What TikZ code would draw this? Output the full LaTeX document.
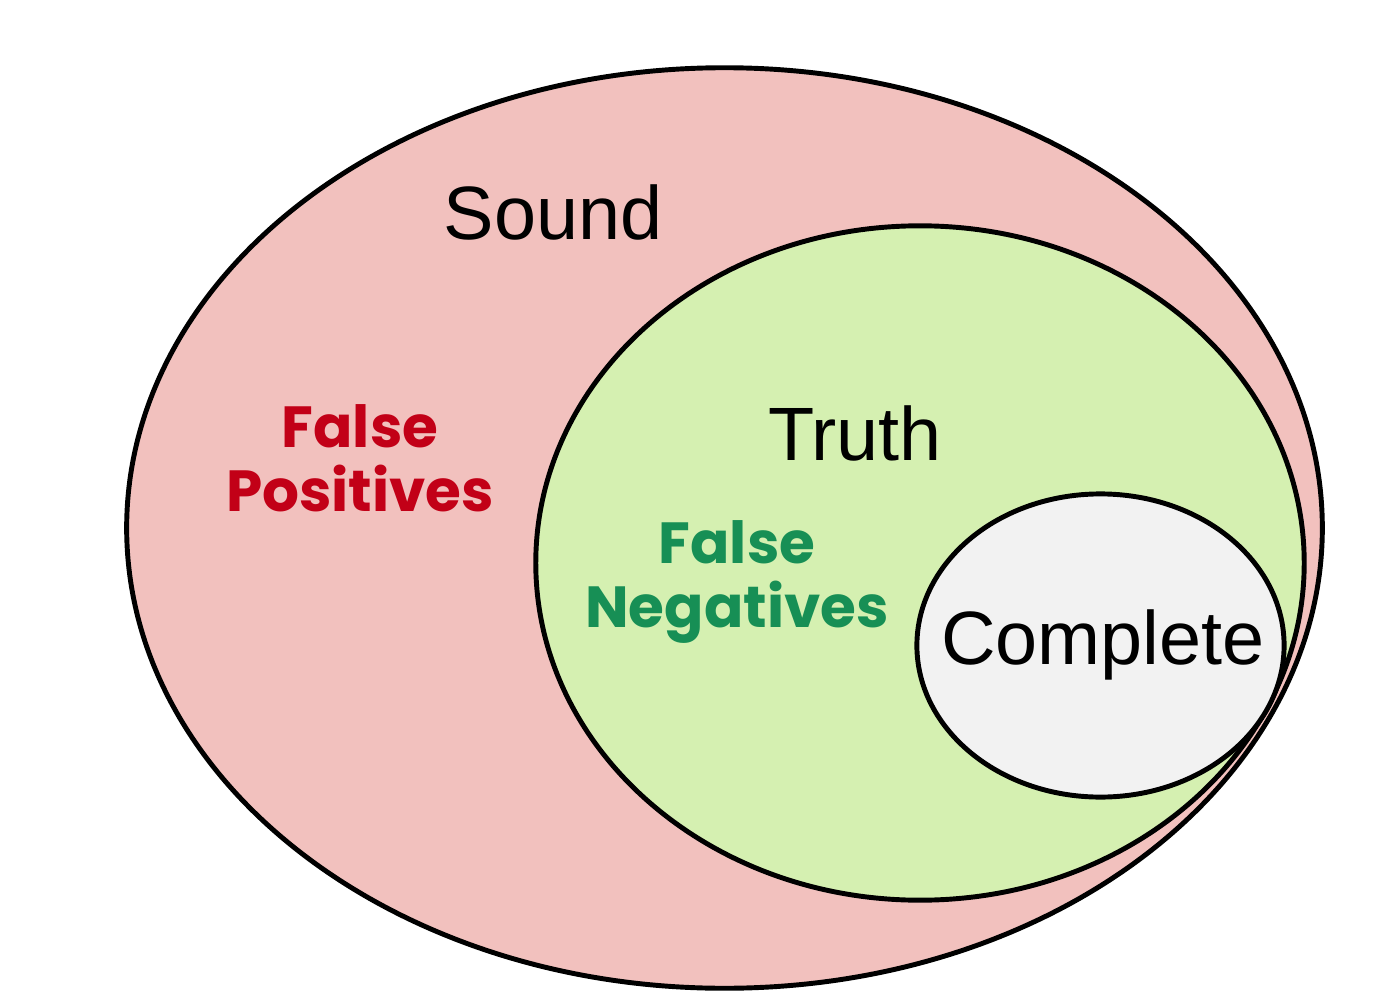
\documentclass[tikz,border=0pt]{standalone}
\usepackage{fontspec}
\setmainfont{Liberation Sans}
\newfontfamily\handfont{Poppins}
\usetikzlibrary{shapes.geometric, positioning}
\definecolor{soundRed}{HTML}{F2C1BE}
\definecolor{truthGreen}{HTML}{D5F0B1}
\definecolor{completeGray}{HTML}{F2F2F2}
\definecolor{fpRed}{HTML}{C20017}
\definecolor{fnGreen}{HTML}{178F55}
\tikzset{
  setE/.style={ellipse, draw=black, line width=1.4pt, inner sep=0pt},
  setLabel/.style={font=\fontsize{21.5}{26}\selectfont, inner sep=0pt},
  errLabel/.style={font=\handfont\bfseries\fontsize{16.5}{18.2}\selectfont,
                   align=center, inner sep=0pt},
}
\begin{document}
\begin{tikzpicture}[x=0.01cm, y=-0.01cm]
  \useasboundingbox (0,0) rectangle (1384,1000);
  % the three nested sets
  \node[setE, fill=soundRed, minimum width=11.95cm, minimum height=9.2cm]
    (sound) at (724.5,528) {};
  \node[setE, fill=truthGreen, minimum width=7.68cm, minimum height=6.74cm]
    (truth) at (920,563) {};
  \node[setE, fill=completeGray, minimum width=3.67cm, minimum height=3.03cm]
    (complete) at (1100.5,645.5) {};
  % labels
  \node[setLabel] (soundTxt) at (553,212) {Sound};
  \node[setLabel] (truthTxt) at (855,433) {Truth};
  \node[setLabel] (completeTxt) at (1103,645) {Complete};
  \node[errLabel, text=fpRed] (fp) at (360,458) {False\\Positives};
  \node[errLabel, text=fnGreen] (fn) at (737,582) {False\\Negatives};
\end{tikzpicture}
\end{document}
